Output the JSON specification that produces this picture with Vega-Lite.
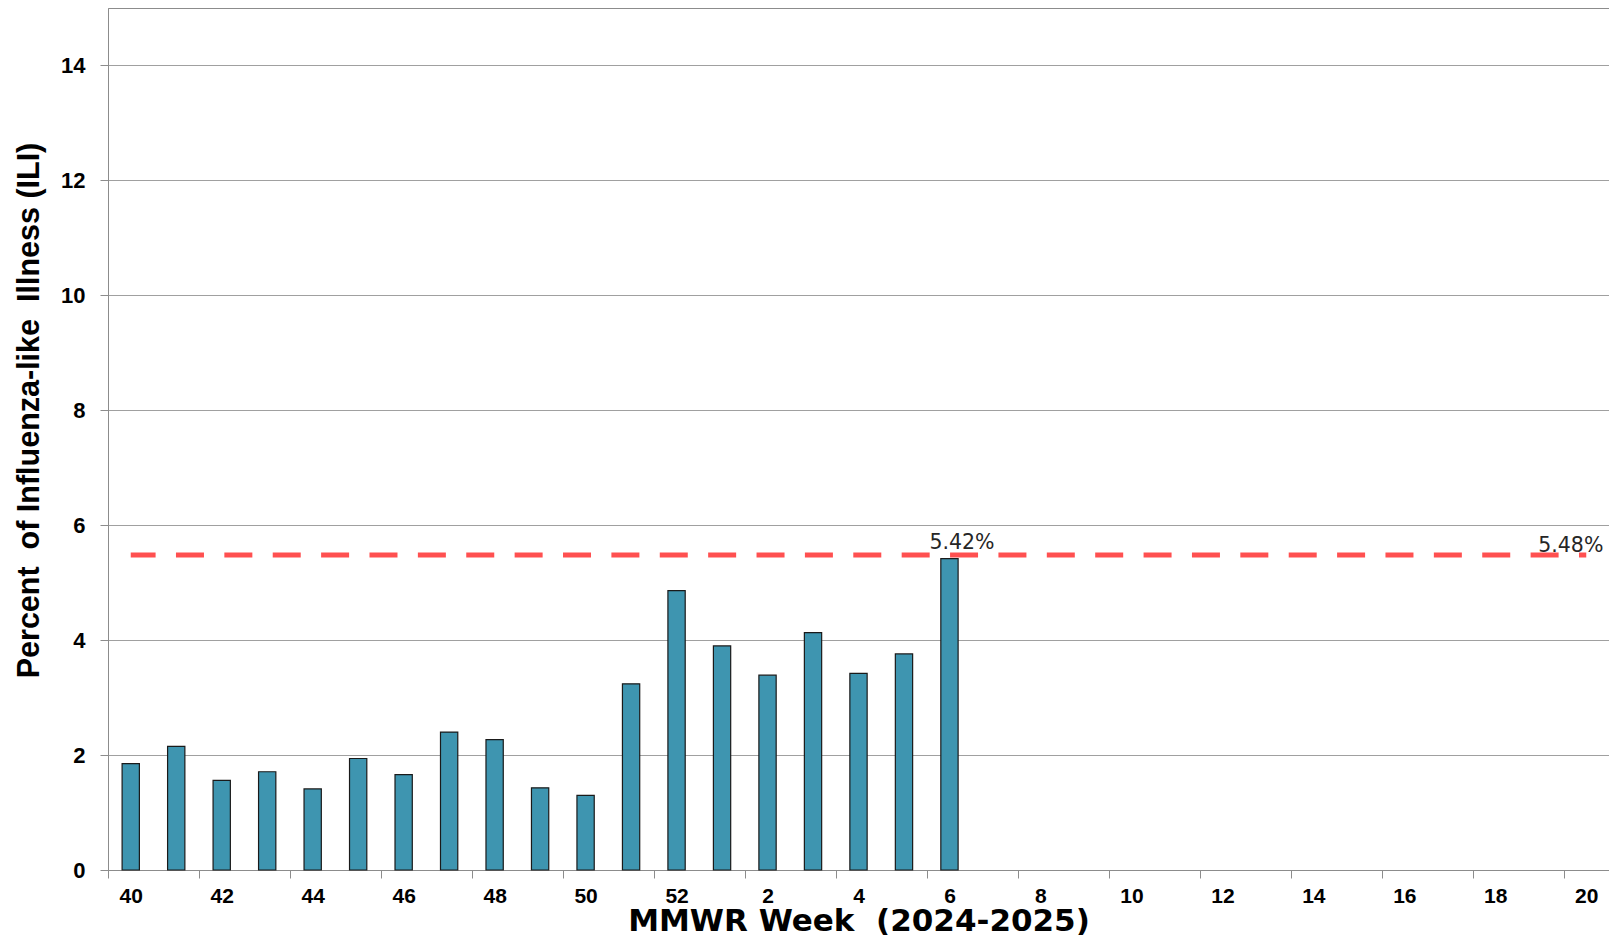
{
  "$schema": "https://vega.github.io/schema/vega-lite/v6.json",
  "width": 1501,
  "height": 862,
  "autosize": "none",
  "padding": {"left": 108, "top": 8, "right": 0, "bottom": 66},
  "background": "white",
  "config": {
    "view": {"stroke": "#8c8c8c", "strokeWidth": 1},
    "axis": {
      "domainColor": "#8c8c8c",
      "tickColor": "#8c8c8c",
      "gridColor": "#a0a0a0",
      "labelColor": "#000000",
      "titleColor": "#000000"
    }
  },
  "datasets": {
    "ili": [
      {"week": "40", "value": 1.85},
      {"week": "41", "value": 2.15},
      {"week": "42", "value": 1.56},
      {"week": "43", "value": 1.71},
      {"week": "44", "value": 1.41},
      {"week": "45", "value": 1.94},
      {"week": "46", "value": 1.66},
      {"week": "47", "value": 2.40},
      {"week": "48", "value": 2.27},
      {"week": "49", "value": 1.43},
      {"week": "50", "value": 1.30},
      {"week": "51", "value": 3.24},
      {"week": "52", "value": 4.86},
      {"week": "1", "value": 3.90},
      {"week": "2", "value": 3.39},
      {"week": "3", "value": 4.13},
      {"week": "4", "value": 3.42},
      {"week": "5", "value": 3.76},
      {"week": "6", "value": 5.42}
    ],
    "baseline": [
      {"week": "40", "value": 5.48},
      {"week": "20", "value": 5.48}
    ],
    "labels": [
      {"week": "6", "value": 5.42, "label": "5.42%"},
      {"week": "20", "value": 5.48, "label": "5.48%"}
    ]
  },
  "layer": [
    {
      "data": {"name": "ili"},
      "mark": {"type": "bar", "width": {"band": 0.38}, "fill": "#3E95B0", "stroke": "#1a1a1a", "strokeWidth": 1.2},
      "encoding": {
        "x": {
          "field": "week",
          "type": "nominal",
          "scale": {
            "domain": ["40","41","42","43","44","45","46","47","48","49","50","51","52","1","2","3","4","5","6","7","8","9","10","11","12","13","14","15","16","17","18","19","20"],
            "paddingInner": 0,
            "paddingOuter": 0
          },
          "title": "MMWR Week\u00a0 (2024-2025)",
          "axis": {
            "values": ["40","42","44","46","48","50","52","2","4","6","8","10","12","14","16","18","20"],
            "tickOffset": -22.74,
            "labelOffset": 22.74,
            "labelAngle": 0,
            "labelFont": "Liberation Sans",
            "labelFontWeight": "bold",
            "labelFontSize": 21,
            "labelPadding": 7,
            "tickSize": 8,
            "grid": false,
            "titleFont": "DejaVu Sans",
            "titleFontWeight": "bold",
            "titleFontSize": 31,
            "titlePadding": 0
          }
        },
        "y": {
          "field": "value",
          "type": "quantitative",
          "scale": {"domain": [0, 15], "nice": false},
          "title": "Percent\u00a0 of Influenza-like\u00a0 Illness (ILI)",
          "axis": {
            "values": [0, 2, 4, 6, 8, 10, 12, 14],
            "format": "d",
            "grid": true,
            "tickSize": 8,
            "labelFont": "Liberation Sans",
            "labelFontWeight": "bold",
            "labelFontSize": 22,
            "labelPadding": 15,
            "titleFont": "Liberation Sans",
            "titleFontWeight": "bold",
            "titleFontSize": 30.5,
            "titlePadding": 16,
            "titleY": 402
          }
        }
      }
    },
    {
      "data": {"name": "baseline"},
      "mark": {"type": "line", "color": "#FF5050", "strokeWidth": 5, "strokeDash": [28, 20.38], "strokeDashOffset": 3.15},
      "encoding": {
        "x": {"field": "week", "type": "nominal", "title": "MMWR Week\u00a0 (2024-2025)"},
        "y": {"field": "value", "type": "quantitative", "title": "Percent\u00a0 of Influenza-like\u00a0 Illness (ILI)"}
      }
    },
    {
      "data": {"name": "labels"},
      "transform": [{"filter": "datum.week === '6'"}],
      "mark": {"type": "text", "font": "DejaVu Sans", "fontSize": 20.5, "color": "#262626", "align": "left", "baseline": "alphabetic", "dx": -20, "dy": -10},
      "encoding": {
        "x": {"field": "week", "type": "nominal", "title": "MMWR Week\u00a0 (2024-2025)"},
        "y": {"field": "value", "type": "quantitative", "title": "Percent\u00a0 of Influenza-like\u00a0 Illness (ILI)"},
        "text": {"field": "label"}
      }
    },
    {
      "data": {"name": "labels"},
      "transform": [{"filter": "datum.week === '20'"}],
      "mark": {"type": "text", "font": "DejaVu Sans", "fontSize": 20.5, "color": "#262626", "align": "left", "baseline": "alphabetic", "dx": -48, "dy": -3},
      "encoding": {
        "x": {"field": "week", "type": "nominal", "title": "MMWR Week\u00a0 (2024-2025)"},
        "y": {"field": "value", "type": "quantitative", "title": "Percent\u00a0 of Influenza-like\u00a0 Illness (ILI)"},
        "text": {"field": "label"}
      }
    }
  ]
}
